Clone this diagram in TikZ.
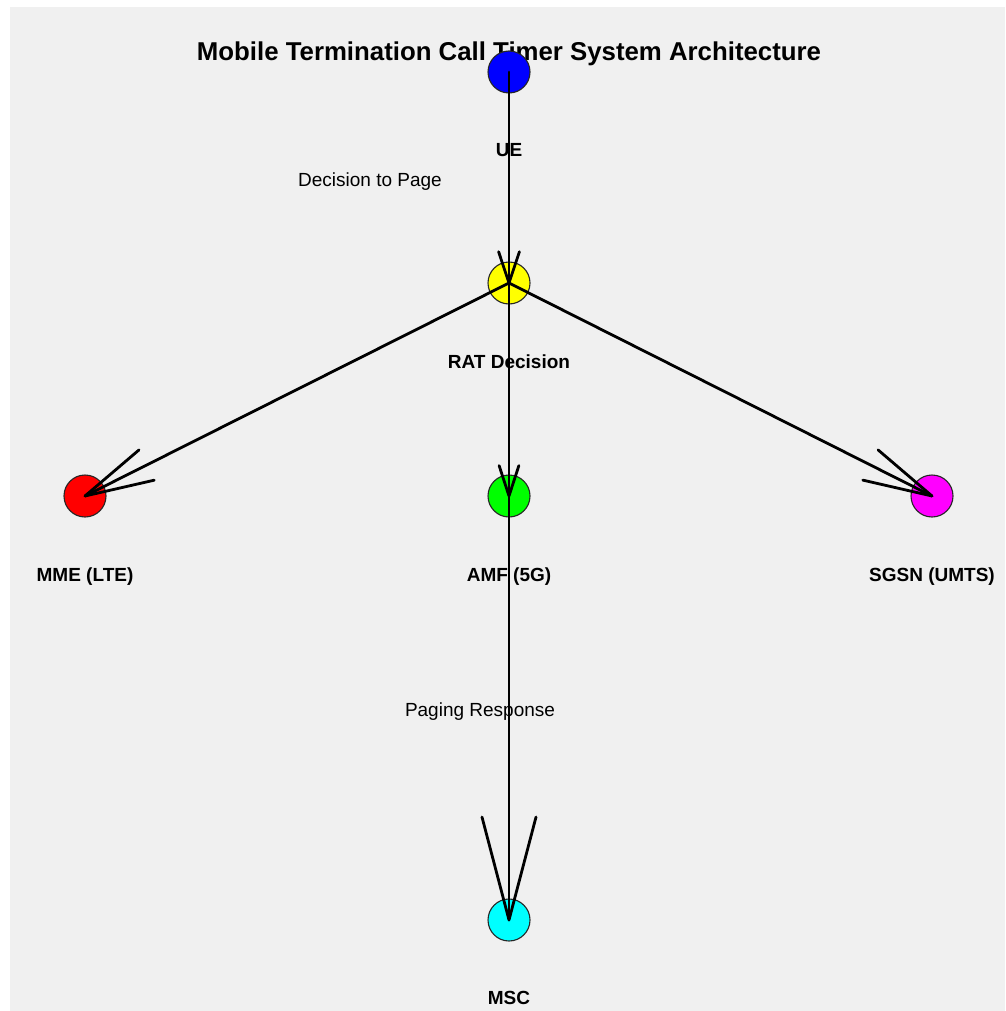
\documentclass[tikz,border=0pt]{standalone}
\usepackage{fontspec}
\setmainfont{Liberation Sans}
\usetikzlibrary{calc}
\definecolor{bggray}{HTML}{F0F0F0}
\tikzset{
  unit/.style={circle, draw=black!85, line width=1.1pt, minimum size=42pt, inner sep=0pt},
  nodelabel/.style={anchor=base, font=\fontsize{19}{22}\selectfont\bfseries, inner sep=0pt},
  edgelabel/.style={anchor=base, font=\fontsize{19}{22}\selectfont, inner sep=0pt},
  conn/.style={line width=2.8pt, black, line cap=round, line join=round}
}
\begin{document}
\begin{tikzpicture}[x=1pt,y=-1pt]
\fill[white] (0,0) rectangle (1005,1011);
\fill[bggray] (10,7) rectangle (1005,1011);
\useasboundingbox (0,0) rectangle (1005,1011);

\node[anchor=base, inner sep=0pt, font=\fontsize{25.8}{30}\selectfont\bfseries] (title) at (509,61) {Mobile Termination Call Timer System Architecture};

\node[unit, fill={rgb,255:red,0;green,0;blue,255}] (ue) at (509,72) {};
\node[unit, fill={rgb,255:red,255;green,255;blue,0}] (rat) at (509,283) {};
\node[unit, fill={rgb,255:red,255;green,0;blue,0}] (mme) at (85,496) {};
\node[unit, fill={rgb,255:red,0;green,255;blue,0}] (amf) at (509,496) {};
\node[unit, fill={rgb,255:red,255;green,0;blue,255}] (sgsn) at (932,496) {};
\node[unit, fill={rgb,255:red,0;green,255;blue,255}] (msc) at (509,920) {};

\node[nodelabel] (uel) at (509,157) {UE};
\node[nodelabel] (ratl) at (509,368) {RAT Decision};
\node[nodelabel] (mmel) at (85,581) {MME (LTE)};
\node[nodelabel] (amfl) at (509,581) {AMF (5G)};
\node[nodelabel] (sgsnl) at (932,581) {SGSN (UMTS)};
\node[nodelabel] (mscl) at (509,1004) {MSC};

\node[edgelabel] (e1) at (370,186) {Decision to Page};
\node[edgelabel] (e2) at (480,716) {Paging Response};

% connectors
\draw[conn] (ue.center) -- (rat.center);
\draw[conn] ($(rat.center)!33pt!18.4:(ue.center)$) -- (rat.center) -- ($(rat.center)!33pt!-18.4:(ue.center)$);

\draw[conn] (rat.center) -- (mme.center);
\draw[conn] ($(mme.center)!71pt!13.8:(rat.center)$) -- (mme.center) -- ($(mme.center)!71pt!-13.8:(rat.center)$);

\draw[conn] (rat.center) -- (amf.center);
\draw[conn] ($(amf.center)!32pt!18:(rat.center)$) -- (amf.center) -- ($(amf.center)!32pt!-18:(rat.center)$);

\draw[conn] (rat.center) -- (sgsn.center);
\draw[conn] ($(sgsn.center)!71pt!13.8:(rat.center)$) -- (sgsn.center) -- ($(sgsn.center)!71pt!-13.8:(rat.center)$);

\draw[conn] (amf.center) -- (msc.center);
\draw[conn] ($(msc.center)!106.5pt!14.7:(amf.center)$) -- (msc.center) -- ($(msc.center)!106.5pt!-14.7:(amf.center)$);
\end{tikzpicture}
\end{document}
